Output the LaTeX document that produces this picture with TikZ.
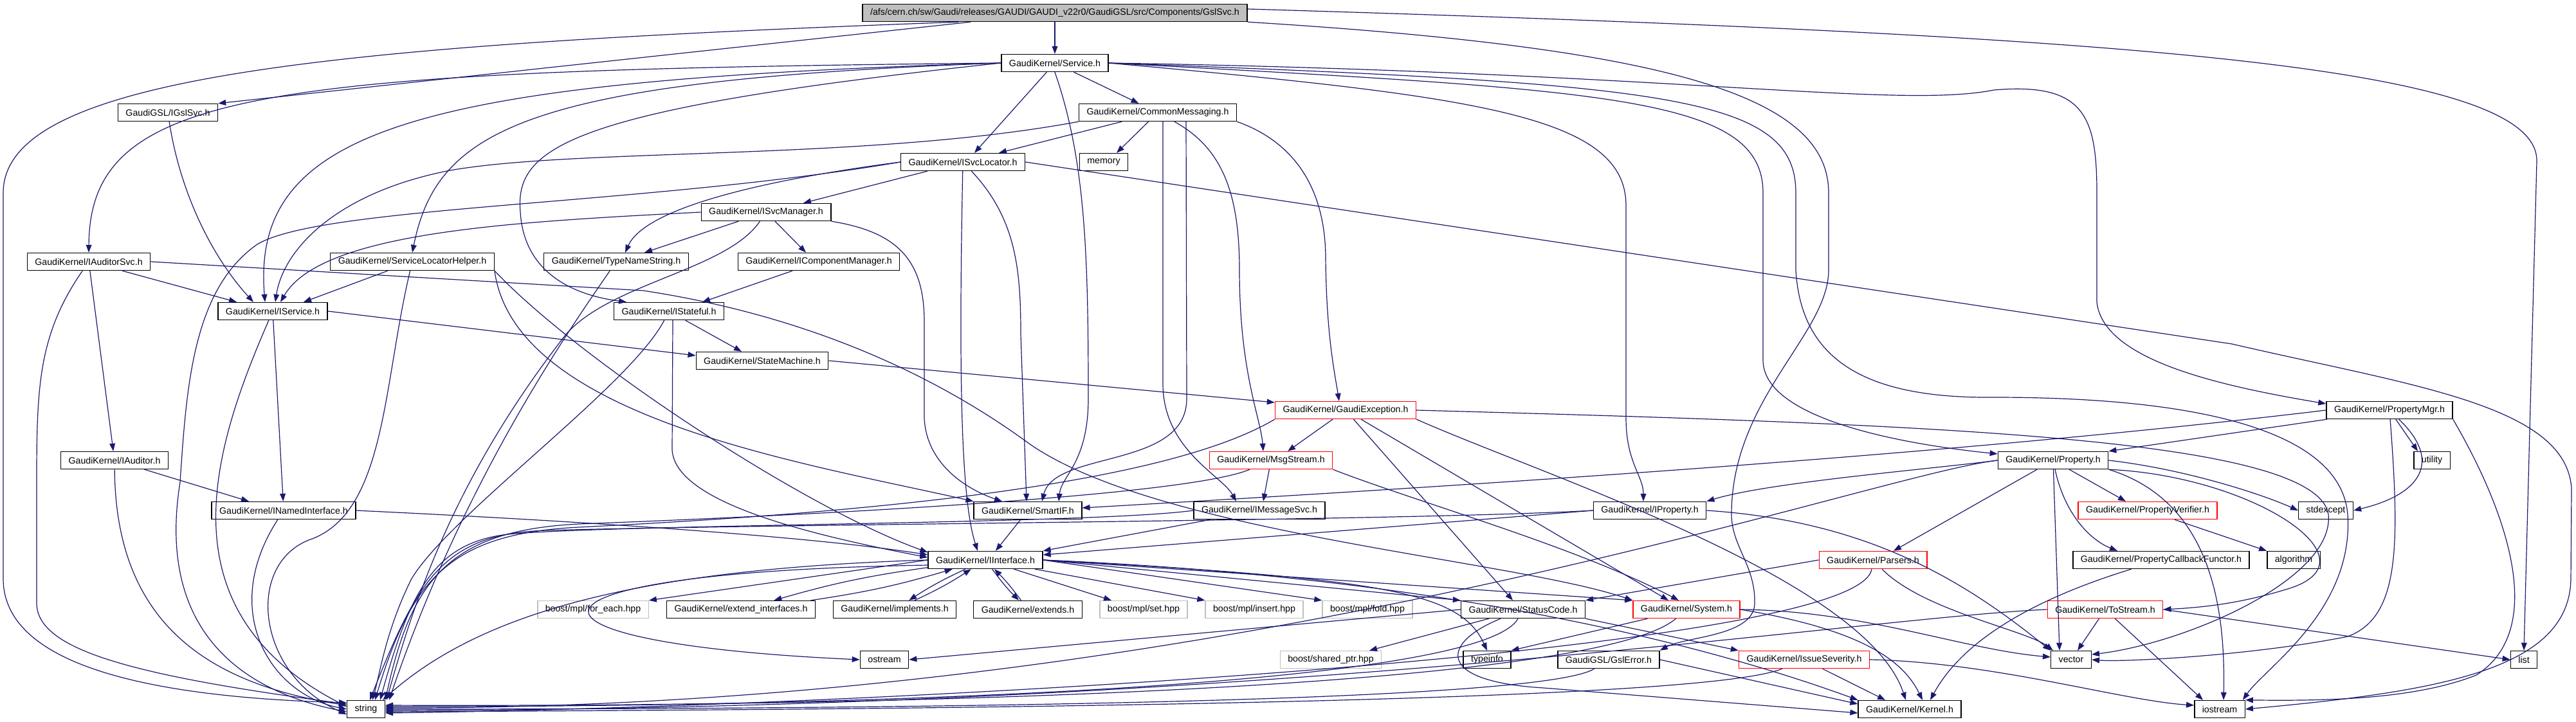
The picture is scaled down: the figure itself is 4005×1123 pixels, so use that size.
\documentclass[tikz,border=0pt]{standalone}
\usepackage{fontspec}
\usepackage{tikz}
\usetikzlibrary{arrows.meta}
\newfontfamily\dotfont{Liberation Sans}
\definecolor{edgeblue}{RGB}{25,25,112}
\definecolor{boxgray}{RGB}{191,191,191}

\begin{document}
\begin{tikzpicture}[x=0.5pt, y=-0.5pt,
  hdr/.style={draw=black, fill=white, line width=0.7pt, inner xsep=6pt, inner ysep=0pt,
    minimum height=13.5pt, font=\dotfont\fontsize{7.1}{8.5}\selectfont},
  part/.style={hdr, draw=red},
  sys/.style={hdr, draw=boxgray},
  dep/.style={edgeblue, line width=0.6pt, -{Triangle[length=6pt, width=4.4pt]}}]

  \useasboundingbox (0,0) rectangle (4005,1123);

  \node[hdr, fill=boxgray] (root) at (1640,20) {/afs/cern.ch/sw/Gaudi/releases/GAUDI/GAUDI\_v22r0/GaudiGSL/src/Components/GslSvc.h};
  \node[hdr] (svc) at (1640,98) {GaudiKernel/Service.h};
  \node[hdr] (cmsg) at (1800,175) {GaudiKernel/CommonMessaging.h};
  \node[hdr] (igslsvc) at (261,175) {GaudiGSL/IGslSvc.h};
  \node[hdr] (isvcloc) at (1497,252) {GaudiKernel/ISvcLocator.h};
  \node[hdr] (memory) at (1716,252) {memory};
  \node[hdr] (isvcmgr) at (1191,330) {GaudiKernel/ISvcManager.h};
  \node[hdr] (iaudsvc) at (138,407) {GaudiKernel/IAuditorSvc.h};
  \node[hdr] (slhelper) at (641,407) {GaudiKernel/ServiceLocatorHelper.h};
  \node[hdr] (tnstring) at (958,407) {GaudiKernel/TypeNameString.h};
  \node[hdr] (icompmgr) at (1273,407) {GaudiKernel/IComponentManager.h};
  \node[hdr] (iservice) at (424,484) {GaudiKernel/IService.h};
  \node[hdr] (istateful) at (1040,484) {GaudiKernel/IStateful.h};
  \node[hdr] (statemach) at (1185,561) {GaudiKernel/StateMachine.h};
  \node[part] (gexcept) at (2092,638) {GaudiKernel/GaudiException.h};
  \node[hdr] (propmgr) at (3715,638) {GaudiKernel/PropertyMgr.h};
  \node[hdr] (iauditor) at (178,716) {GaudiKernel/IAuditor.h};
  \node[part] (msgstream) at (1976,716) {GaudiKernel/MsgStream.h};
  \node[hdr] (property) at (3192,716) {GaudiKernel/Property.h};
  \node[hdr] (utility) at (3781,716) {utility};
  \node[hdr] (inamed) at (441,794) {GaudiKernel/INamedInterface.h};
  \node[hdr] (smartif) at (1598,794) {GaudiKernel/SmartIF.h};
  \node[hdr] (imsgsvc) at (1958,794) {GaudiKernel/IMessageSvc.h};
  \node[hdr] (iprop) at (2565,794) {GaudiKernel/IProperty.h};
  \node[part] (propverif) at (3339,794) {GaudiKernel/PropertyVerifier.h};
  \node[hdr] (stdexcept) at (3616,794) {stdexcept};
  \node[hdr] (iiface) at (1532,871) {GaudiKernel/IInterface.h};
  \node[part] (parsers) at (2912,871) {GaudiKernel/Parsers.h};
  \node[hdr] (propcb) at (3360,871) {GaudiKernel/PropertyCallbackFunctor.h};
  \node[hdr] (algorithm) at (3566,871) {algorithm};
  \node[sys] (foreach) at (922,948) {boost/mpl/for\_each.hpp};
  \node[hdr] (extif) at (1152,948) {GaudiKernel/extend\_interfaces.h};
  \node[hdr] (impl) at (1391,948) {GaudiKernel/implements.h};
  \node[hdr] (extends) at (1598,948) {GaudiKernel/extends.h};
  \node[sys] (mplset) at (1778,948) {boost/mpl/set.hpp};
  \node[sys] (mplinsert) at (1950,948) {boost/mpl/insert.hpp};
  \node[sys] (mplfold) at (2126,948) {boost/mpl/fold.hpp};
  \node[hdr] (statuscode) at (2368,948) {GaudiKernel/StatusCode.h};
  \node[part] (system) at (2622,948) {GaudiKernel/System.h};
  \node[part] (tostream) at (3273,948) {GaudiKernel/ToStream.h};
  \node[hdr] (ostream) at (1375,1026) {ostream};
  \node[sys] (sharedptr) at (2069,1026) {boost/shared\_ptr.hpp};
  \node[hdr] (typeinfo) at (2312,1026) {typeinfo};
  \node[hdr] (gslerror) at (2501,1026) {GaudiGSL/GslError.h};
  \node[part] (issuesev) at (2805,1026) {GaudiKernel/IssueSeverity.h};
  \node[hdr] (vector) at (3220,1026) {vector};
  \node[hdr] (list) at (3924,1026) {list};
  \node[hdr] (string) at (569,1103) {string};
  \node[hdr] (kernel) at (2969,1103) {GaudiKernel/Kernel.h};
  \node[hdr] (iostream) at (3451,1103) {iostream};

  \draw[dep] (root) -- (svc);
  \draw[dep] (root) -- (igslsvc.north east);
  \draw[dep] ([xshift=75pt]root.south west) .. controls (500,70) and (5,120) .. (5,300) -- (5,900) .. controls (5,1040) and (250,1085) .. ([yshift=5pt]string.west);
  \draw[dep] (root.south east) .. controls (2600,75) and (2843,150) .. (2843,300) -- (2843,420) .. controls (2843,520) and (2692,620) .. (2692,800) .. controls (2692,850) and (2730,880) .. (2728,940) .. controls (2725,990) and (2620,990) .. (gslerror.north east);
  \draw[dep] ([yshift=3pt]root.east) .. controls (3300,55) and (3944,100) .. (3944,250) -- (list.north);

  \draw[dep] (svc) -- (cmsg);
  \draw[dep] (svc) -- ([xshift=9pt]isvcloc.north);
  \draw[dep] (svc.west) .. controls (400,110) and (140,140) .. (iaudsvc.north);
  \draw[dep] (svc.west) .. controls (650,125) and (390,200) .. ([xshift=-6pt]iservice.north);
  \draw[dep] (svc.west) .. controls (820,125) and (680,200) .. (slhelper.north);
  \draw[dep] (svc.west) .. controls (880,170) and (800,230) .. (809,330) .. controls (815,430) and (900,460) .. ([xshift=-33pt]istateful.north);
  \draw[dep] (svc.south) .. controls (1688,250) and (1692,400) .. (1692,620) .. controls (1692,720) and (1650,740) .. ([xshift=24pt]smartif.north);
  \draw[dep] (svc.east) .. controls (2300,150) and (2528,180) .. (2528,320) -- (2528,650) .. controls (2528,720) and (2555,740) .. ([xshift=-5pt]iprop.north);
  \draw[dep] (svc.east) .. controls (2500,140) and (2741,150) .. (2741,300) -- (2741,560) .. controls (2741,650) and (2950,690) .. ([yshift=5pt]property.west);
  \draw[dep] (svc.east) .. controls (2600,112) and (2950,170) .. (3100,140) .. controls (3240,128) and (3260,180) .. (3260,300) -- (3260,470) .. controls (3270,560) and (3450,600) .. ([yshift=5pt]propmgr.west);
  \draw[dep] (svc.east) .. controls (2600,130) and (2792,150) .. (2792,300) -- (2792,420) .. controls (2800,560) and (2900,620) .. (3100,618) .. controls (3450,618) and (3640,680) .. (3650,800) .. controls (3660,950) and (3520,1040) .. ([xshift=18pt]iostream.north);

  \draw[dep] (cmsg) -- ([xshift=28pt]isvcloc.north);
  \draw[dep] (cmsg) -- ([xshift=10pt]memory.north);
  \draw[dep] (cmsg.south west) .. controls (1350,250) and (900,230) .. (700,265) .. controls (520,300) and (440,390) .. ([xshift=2pt]iservice.north);
  \draw[dep] (cmsg.south east) .. controls (2010,220) and (2060,290) .. (2061,400) .. controls (2062,520) and (2075,580) .. ([xshift=-5pt]gexcept.north);
  \draw[dep] (cmsg) .. controls (1900,230) and (1927,300) .. (1927,420) .. controls (1927,580) and (1960,650) .. ([xshift=-6pt]msgstream.north);
  \draw[dep] ([xshift=4pt]cmsg.south) -- (1808,600) .. controls (1810,700) and (1900,740) .. ([xshift=-18pt]imsgsvc.north);
  \draw[dep] ([xshift=22pt]cmsg.south) -- (1845,620) .. controls (1845,730) and (1640,700) .. ([xshift=11pt]smartif.north);

  \draw[dep] (isvcloc) -- ([xshift=29pt]isvcmgr.north);
  \draw[dep] (isvcloc) .. controls (1490,600) and (1495,780) .. ([xshift=-6pt]iiface.north);
  \draw[dep] (isvcloc) .. controls (1580,340) and (1587,420) .. (1587,520) -- ([xshift=-1pt]smartif.north);
  \draw[dep] (isvcloc.west) .. controls (1000,320) and (500,320) .. (400,380) .. controls (300,450) and (290,600) .. (280,750) .. controls (240,1000) and (400,1080) .. ([yshift=-2pt]string.west);
  \draw[dep] (isvcloc.west) .. controls (1150,285) and (1000,330) .. ([xshift=7pt]tnstring.north);
  \draw[dep] (isvcloc.east) -- (3470,535) .. controls (3750,600) and (3990,630) .. (3998,760) -- (3997,900) .. controls (3995,1040) and (3800,1075) .. (iostream.east);

  \draw[dep] (isvcmgr.west) .. controls (800,345) and (500,360) .. ([xshift=6pt]iservice.north);
  \draw[dep] (isvcmgr) -- ([xshift=22pt]tnstring.north);
  \draw[dep] (isvcmgr) -- ([xshift=-10pt]icompmgr.north);
  \draw[dep] (isvcmgr.south east) .. controls (1390,360) and (1437,400) .. (1437,500) -- (1437,650) .. controls (1440,720) and (1500,760) .. ([xshift=-20pt]smartif.north);
  \draw[dep] (isvcmgr) .. controls (1130,420) and (950,440) .. (880,520) .. controls (700,750) and (640,950) .. ([xshift=16pt]string.north);

  \draw[dep] (igslsvc) .. controls (280,300) and (330,400) .. ([xshift=-15pt]iservice.north);

  \draw[dep] (iaudsvc) -- ([xshift=-28pt]iservice.north);
  \draw[dep] (iaudsvc) -- (iauditor);
  \draw[dep] (iaudsvc) .. controls (60,520) and (57,600) .. (57,750) -- (57,940) .. controls (60,1010) and (200,1050) .. ([yshift=4pt]string.west);
  \draw[dep] (iaudsvc.east) -- (1000,452) .. controls (1250,490) and (1450,580) .. (1600,690) .. controls (1800,830) and (2350,870) .. (system.north west);

  \draw[dep] (iservice) -- (inamed);
  \draw[dep] (iservice) .. controls (330,700) and (250,950) .. ([yshift=2pt]string.west);
  \draw[dep] (iservice.east) -- ([yshift=4pt]statemach.west);

  \draw[dep] (slhelper) -- ([xshift=24pt]iservice.north);
  \draw[dep] (slhelper) .. controls (595,600) and (600,800) .. (480,840) .. controls (380,880) and (400,1050) .. ([yshift=-4pt]string.west);
  \draw[dep] (slhelper.south east) .. controls (800,650) and (1250,720) .. (smartif.north west);
  \draw[dep] (slhelper.south east) .. controls (900,560) and (1250,790) .. ([yshift=6pt]iiface.west);

  \draw[dep] (tnstring) .. controls (880,520) and (720,750) .. ([xshift=18pt]string.north);
  \draw[dep] (icompmgr) -- ([xshift=26pt]istateful.north);

  \draw[dep] ([xshift=3pt]istateful.south) -- (1045,700) .. controls (1050,780) and (1250,830) .. ([yshift=2pt]iiface.west);
  \draw[dep] (istateful) -- ([xshift=-16pt]statemach.north);
  \draw[dep] (istateful) .. controls (980,600) and (700,800) .. (640,900) .. controls (600,980) and (590,1050) .. ([xshift=5pt]string.north);

  \draw[dep] (statemach.east) -- ([yshift=6pt]gexcept.west);

  \draw[dep] (gexcept) -- ([xshift=13pt]msgstream.north);
  \draw[dep] (gexcept.south west) .. controls (1800,760) and (1300,800) .. (900,820) .. controls (700,830) and (640,900) .. ([xshift=-8pt]string.north east);
  \draw[dep] (gexcept) -- ([xshift=-8pt]statuscode.north);
  \draw[dep] (gexcept) -- ([xshift=-14pt]system.north);
  \draw[dep] (gexcept.south east) .. controls (2400,740) and (2900,900) .. ([xshift=-3pt]kernel.north);
  \draw[dep] (gexcept.east) .. controls (3000,660) and (3600,680) .. (3620,800) .. controls (3630,900) and (3400,1000) .. ([yshift=4pt]vector.east);

  \draw[dep] (msgstream) -- ([xshift=3pt]imsgsvc.north);
  \draw[dep] (msgstream) .. controls (1850,770) and (1300,800) .. (900,815) .. controls (700,825) and (640,900) .. (string.north east);
  \draw[dep] (msgstream.south east) .. controls (2200,780) and (2450,850) .. ([xshift=-6pt]system.north);

  \draw[dep] (imsgsvc) -- (iiface.north east);
  \draw[dep] (imsgsvc.west) .. controls (1700,815) and (1000,815) .. (800,830) .. controls (680,840) and (640,910) .. ([xshift=-4pt]string.north east);

  \draw[dep] (smartif) -- ([xshift=8pt]iiface.north);

  \draw[dep] (inamed.east) .. controls (1000,815) and (1300,840) .. ([yshift=4pt]iiface.west);
  \draw[dep] (inamed) .. controls (340,950) and (420,1080) .. (string.west);

  \draw[dep] (iauditor) -- ([xshift=-27pt]inamed.north);
  \draw[dep] (iauditor) .. controls (180,950) and (300,1060) .. ([yshift=3pt]string.west);

  \draw[dep] (iiface.west) -- (foreach.north east);
  \draw[dep] (iiface) to[bend right=4] (extif);
  \draw[dep] (extif) to[bend right=4] (iiface);
  \draw[dep] (iiface) to[bend right=4] (impl);
  \draw[dep] (impl) to[bend right=4] (iiface);
  \draw[dep] (iiface) to[bend right=4] (extends);
  \draw[dep] (extends) to[bend right=4] (iiface);
  \draw[dep] (iiface) -- ([xshift=-25pt]mplset.north);
  \draw[dep] (iiface) -- (mplinsert.north west);
  \draw[dep] (iiface.east) -- (mplfold.north west);
  \draw[dep] (iiface.east) -- (statuscode.north west);
  \draw[dep] (iiface.east) -- (system.north west);
  \draw[dep] (iiface.east) .. controls (2150,900) and (2270,920) .. (typeinfo.north);
  \draw[dep] (iiface.east) .. controls (2300,900) and (2700,1020) .. (kernel.north west);
  \draw[dep] (iiface.west) .. controls (1000,885) and (750,950) .. ([xshift=-2pt]string.north east);
  \draw[dep] ([yshift=-4pt]iiface.west) .. controls (760,890) and (760,1000) .. (ostream.west);

  \draw[dep] (iprop.west) -- ([yshift=4pt]iiface.east);
  \draw[dep] (iprop.west) .. controls (2200,810) and (1200,815) .. (850,825) .. controls (690,830) and (650,900) .. ([xshift=-12pt]string.north east);
  \draw[dep] (iprop.east) .. controls (2900,810) and (3050,900) .. (vector.north west);

  \draw[dep] (parsers.west) -- (statuscode.north east);
  \draw[dep] (parsers) .. controls (2890,1020) and (1300,1100) .. ([yshift=-3pt]string.east);
  \draw[dep] (parsers) .. controls (2990,950) and (3150,980) .. ([xshift=-14pt]vector.north);

  \draw[dep] (statuscode.west) -- (ostream.east);
  \draw[dep] (statuscode) -- ([xshift=30pt]sharedptr.north);
  \draw[dep] (statuscode) .. controls (2300,1070) and (1300,1100) .. ([yshift=2pt]string.east);
  \draw[dep] (statuscode) .. controls (2240,1000) and (2230,1060) .. (2400,1070) -- ([yshift=-3pt]kernel.west);
  \draw[dep] (statuscode.south east) -- (issuesev.north west);

  \draw[dep] (system) -- (typeinfo.north east);
  \draw[dep] (system) .. controls (2480,1070) and (1400,1100) .. ([yshift=3pt]string.east);
  \draw[dep] (system.east) .. controls (2900,980) and (2960,1030) .. ([xshift=10pt]kernel.north);
  \draw[dep] (system.east) .. controls (2900,950) and (3050,1010) .. ([yshift=2pt]vector.west);

  \draw[dep] (gslerror.east) -- ([yshift=4pt]kernel.west);
  \draw[dep] (gslerror) .. controls (2400,1090) and (1500,1103) .. (string.east);

  \draw[dep] (issuesev) -- ([xshift=-19pt]kernel.north);
  \draw[dep] (issuesev) .. controls (2650,1090) and (1600,1103) .. ([yshift=-2pt]string.east);
  \draw[dep] (issuesev.east) .. controls (3100,1030) and (3300,1090) .. ([yshift=3pt]iostream.west);

  \draw[dep] (property.west) .. controls (3000,730) and (2750,750) .. (iprop.north east);
  \draw[dep] (property) -- ([xshift=-17pt]propverif.north);
  \draw[dep] (property) .. controls (3210,800) and (3250,840) .. ([xshift=-34pt]propcb.north);
  \draw[dep] (property) -- ([xshift=16pt]parsers.north);
  \draw[dep] (property.south east) .. controls (3500,740) and (3700,870) .. (3560,915) .. controls (3480,940) and (3420,945) .. (tostream.east);
  \draw[dep] (property.east) .. controls (3400,730) and (3520,770) .. (stdexcept.west);
  \draw[dep] (property) -- ([xshift=-9pt]vector.north);
  \draw[dep] (property.south east) .. controls (3440,780) and (3460,950) .. ([xshift=3pt]iostream.north);
  \draw[dep] (property.west) .. controls (2900,740) and (1900,1104) .. ([yshift=1pt]string.east);

  \draw[dep] (propverif) -- (algorithm.north west);
  \draw[dep] (propcb) .. controls (3200,920) and (3060,980) .. ([xshift=16pt]kernel.north);

  \draw[dep] (tostream) -- ([xshift=5pt]vector.north);
  \draw[dep] (tostream.east) -- (list.west);
  \draw[dep] (tostream) -- ([xshift=-13pt]iostream.north);
  \draw[dep] (tostream.west) .. controls (2900,960) and (2000,1103) .. ([yshift=-1pt]string.east);

  \draw[dep] (propmgr) -- (property.north east);
  \draw[dep] (propmgr.west) .. controls (3000,712) and (2200,760) .. ([yshift=2pt]smartif.east);
  \draw[dep] (propmgr) -- ([xshift=-11pt]utility.north);
  \draw[dep] (propmgr) .. controls (3800,720) and (3760,770) .. (stdexcept.east);
  \draw[dep] (propmgr) .. controls (3731,850) and (3731,960) .. (3650,990) .. controls (3500,1020) and (3300,1030) .. (vector.east);
  \draw[dep] (propmgr.south east) .. controls (3900,800) and (3960,980) .. (3850,1050) .. controls (3750,1090) and (3600,1090) .. (iostream.north east);
\end{tikzpicture}
\end{document}
